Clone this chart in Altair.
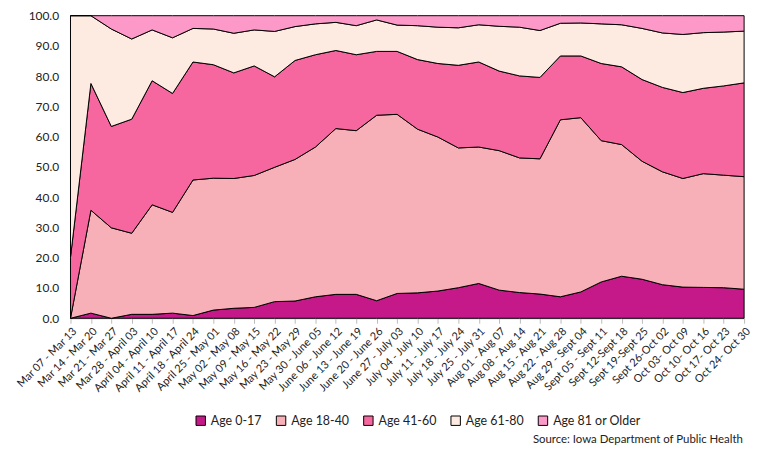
import altair as alt
import pandas as pd

weeks = [
    "Mar 07 - Mar 13", "Mar 14 - Mar 20", "Mar 21 - Mar 27", "Mar 28 - April 03",
    "April 04 - April 10", "April 11 - April 17", "April 18 - April 24", "April 25 - May 01",
    "May 02 - May 08", "May 09 - May 15", "May 16 - May 22", "May 23 - May 29",
    "May 30 - June 05", "June 06 - June 12", "June 13 - June 19", "June 20 - June 26",
    "June 27 - July 03", "July 04 - July 10", "July 11 - July 17", "July 18 - July 24",
    "July 25 - July 31", "Aug 01 - Aug 07", "Aug 08 - Aug 14", "Aug 15 - Aug 21",
    "Aug 22 - Aug 28", "Aug 29 - Sept 04", "Sept 05 - Sept 11", "Sept 12-Sept 18",
    "Sept 19-Sept 25", "Sept 26-Oct 02", "Oct 03- Oct 09", "Oct 10- Oct 16",
    "Oct 17- Oct 23", "Oct 24- Oct 30",
]

groups = ["Age 0-17", "Age 18-40", "Age 41-60", "Age 61-80", "Age 81 or Older"]
colors = ["#C5198A", "#F8B0B8", "#F5679E", "#FDEBE1", "#FD99C8"]

age_0_17 = [0.0, 1.7, 0.0, 1.3, 1.3, 1.7, 0.9, 2.7, 3.3, 3.6, 5.5, 5.7, 7.1, 7.9, 7.9, 5.8, 8.2,
            8.4, 9.0, 10.1, 11.5, 9.3, 8.5, 8.0, 7.1, 8.7, 12.0, 13.9, 12.9, 11.1, 10.3, 10.2, 10.1, 9.6]
age_18_40 = [0.0, 34.0, 29.9, 26.8, 36.2, 33.3, 44.8, 43.6, 42.9, 43.6, 44.4, 46.8, 49.5, 54.8, 54.1,
             61.3, 59.2, 54.1, 50.9, 46.2, 45.1, 46.1, 44.5, 44.7, 58.5, 57.6, 46.7, 43.5, 39.0, 37.3,
             35.9, 37.6, 37.2, 37.2]
age_41_60 = [20.2, 41.9, 33.5, 37.7, 41.0, 39.3, 39.0, 37.5, 34.9, 36.2, 29.9, 32.7, 30.5, 25.8, 25.1,
             21.1, 20.8, 23.0, 24.3, 27.3, 28.1, 26.3, 27.1, 26.9, 21.1, 20.4, 25.5, 25.7, 27.0, 27.9,
             28.4, 28.2, 29.5, 31.0]
age_61_80 = [79.8, 22.4, 32.2, 26.5, 16.8, 18.4, 11.1, 11.8, 13.1, 11.9, 15.0, 11.2, 10.2, 9.3, 9.6,
             10.4, 8.7, 11.2, 12.0, 12.4, 12.3, 14.8, 16.1, 15.5, 10.8, 10.9, 13.1, 13.9, 16.9, 18.0,
             19.2, 18.4, 17.8, 17.1]
age_81_plus = [0.0, 0.0, 4.4, 7.7, 4.7, 7.3, 4.2, 4.4, 5.8, 4.7, 5.2, 3.6, 2.7, 2.2, 3.3, 1.4, 3.1,
               3.3, 3.8, 4.0, 3.0, 3.5, 3.8, 4.9, 2.5, 2.4, 2.7, 3.0, 4.2, 5.7, 6.2, 5.6, 5.4, 5.1]

series = [age_0_17, age_18_40, age_41_60, age_61_80, age_81_plus]

rows = []
for gi, (g, vals) in enumerate(zip(groups, series)):
    for w, v in zip(weeks, vals):
        rows.append({"week": w, "group": g, "value": v, "order": gi})
df = pd.DataFrame(rows)

FONT = "Lato"

chart = alt.Chart(df).mark_area(stroke="black", strokeWidth=1, opacity=1).encode(
    x=alt.X("week:N", sort=weeks, title=None,
            scale=alt.Scale(type="point", padding=0),
            axis=alt.Axis(labelAngle=-45, labelFontSize=11, labelFont=FONT, labelColor="#222",
                          domainColor="#bbbbbb", tickColor="#bbbbbb", tickSize=5,
                          labelPadding=2, grid=False)),
    y=alt.Y("value:Q", stack="zero", title=None,
            scale=alt.Scale(domain=[0, 100], nice=False),
            axis=alt.Axis(values=[0, 10, 20, 30, 40, 50, 60, 70, 80, 90, 100], format=".1f",
                          labelFontSize=12, labelFont=FONT, labelColor="#222",
                          domain=False, ticks=False, grid=False, labelPadding=12)),
    color=alt.Color("group:N", sort=groups,
                    scale=alt.Scale(domain=groups, range=colors),
                    legend=alt.Legend(title=None, orient="none", direction="horizontal",
                                      legendX=125, legendY=402,
                                      symbolType="square", symbolStrokeColor="black",
                                      symbolStrokeWidth=1, symbolSize=90,
                                      labelFontSize=12.5, labelFont=FONT, labelColor="#222",
                                      columnPadding=12)),
    order=alt.Order("order:Q", sort="ascending"),
).properties(
    width=679,
    height=305,
    title=alt.TitleParams("Source: Iowa Department of Public Health", orient="bottom",
                          anchor="end", fontSize=11.5, fontWeight="normal", font=FONT,
                          color="#222", offset=7, dx=-9),
    padding={"left": 6, "top": 0, "right": 5, "bottom": 0},
).configure_view(stroke=None)

chart.save("out.html", embed_options={"renderer": "svg", "actions": False})
